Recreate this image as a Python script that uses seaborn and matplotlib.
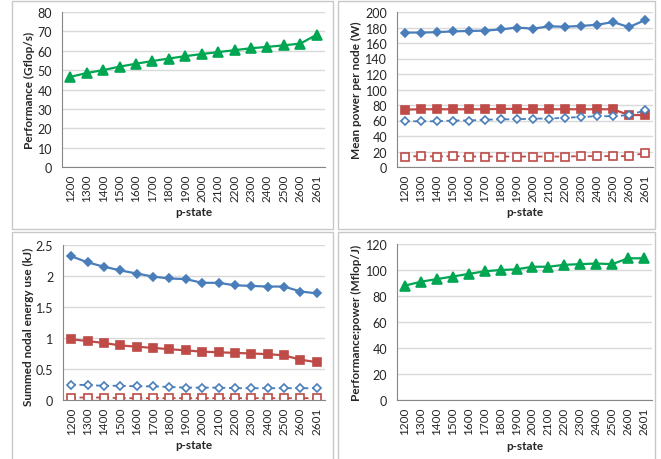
import numpy as np
import pandas as pd
import seaborn as sns
import matplotlib.pyplot as plt
from matplotlib.patches import Rectangle

# p-state categories
pstates = ['1200', '1300', '1400', '1500', '1600', '1700', '1800', '1900',
           '2000', '2100', '2200', '2300', '2400', '2500', '2600', '2601']

# Performance (Gflop/s)
performance = [46.5, 48.5, 50.0, 51.8, 53.3, 54.7, 56.0, 57.2,
               58.3, 59.3, 60.3, 61.3, 62.0, 62.8, 63.7, 68.3]

# Mean power per node (W)
power_a = [173.5, 173.5, 174, 175, 175.5, 176, 177.5, 180,
           178.5, 181.5, 181, 182, 183.5, 187, 180.5, 189.5]
power_b = [74, 74.5, 74.5, 74.5, 74.5, 74.5, 75, 75,
           74.5, 74.5, 74.5, 74.5, 74.5, 74.5, 67, 67]
power_c = [59, 59, 59, 60, 60, 61, 61.5, 61.5,
           62.5, 62.5, 63.5, 64.5, 65.5, 65.5, 67, 73]
power_d = [13.5, 14, 13.5, 14, 13.5, 13.5, 13.5, 13.5,
           13.5, 13.5, 13.5, 14, 14, 14, 14, 18]

# Summed nodal energy use (kJ)
energy_a = [2.32, 2.22, 2.15, 2.09, 2.04, 1.99, 1.96, 1.95,
            1.89, 1.89, 1.85, 1.84, 1.83, 1.83, 1.75, 1.72]
energy_b = [0.98, 0.95, 0.92, 0.88, 0.86, 0.84, 0.82, 0.80,
            0.78, 0.77, 0.76, 0.75, 0.74, 0.72, 0.65, 0.61]
energy_c = [0.25, 0.24, 0.23, 0.23, 0.22, 0.22, 0.21, 0.20,
            0.20, 0.20, 0.19, 0.19, 0.19, 0.19, 0.19, 0.19]
energy_d = [0.04, 0.04, 0.04, 0.03, 0.03, 0.03, 0.03, 0.03,
            0.03, 0.03, 0.03, 0.03, 0.03, 0.03, 0.03, 0.03]

# Performance:power (Mflop/J)
perf_power = [88, 91, 93, 95, 97, 99, 100, 100.5,
              102.5, 102.5, 104, 104.5, 105, 104.5, 109, 109]

GREEN = '#00A651'
BLUE = '#4A7EBB'
RED = '#BE4B48'
AXIS_GREY = '#868686'
GRID_GREY = '#D9D9D9'

sns.set_style('white')
plt.rcParams['font.family'] = ['Lato', 'DejaVu Sans']
plt.rcParams['font.size'] = 8

W, H = 661, 460
fig = plt.figure(figsize=(W / 100, H / 100), dpi=100)


def px_axes(left, right, top, bottom):
    return fig.add_axes([left / W, 1 - bottom / H, (right - left) / W, (bottom - top) / H])


def frame(x0, x1, y0, y1):
    fig.add_artist(Rectangle((x0 / W, 1 - y1 / H), (x1 - x0) / W, (y1 - y0) / H,
                             transform=fig.transFigure, fill=False,
                             edgecolor='#C8C8C8', lw=1.0))


frame(12, 333, 2, 230)
frame(338, 655, 2, 230)
frame(12, 333, 233, 470)
frame(338, 655, 233, 470)


def style_axes(ax, ymax, ystep, ylabel, label_x, label_y=0.5, yfmt=None):
    ax.set_xlim(-0.5, len(pstates) - 0.5)
    ax.set_ylim(0, ymax)
    yt = np.arange(0, ymax + ystep / 2, ystep)
    ax.set_yticks(yt)
    if yfmt is not None:
        ax.set_yticklabels([yfmt(v) for v in yt])
    ax.set_xticks(range(len(pstates)))
    ax.set_xticklabels(pstates, rotation=90)
    ax.set_xticks(np.arange(-0.5, len(pstates)), minor=True)
    ax.tick_params(axis='x', which='major', length=0, pad=5, labelsize=8.5)
    ax.tick_params(axis='x', which='minor', length=5, width=0.8, color=AXIS_GREY)
    ax.tick_params(axis='y', length=4, width=0.8, color=AXIS_GREY, pad=3, labelsize=9)
    ax.yaxis.grid(True, color=GRID_GREY, lw=1.0)
    ax.set_axisbelow(True)
    for s in ['top', 'right']:
        ax.spines[s].set_visible(False)
    for s in ['left', 'bottom']:
        ax.spines[s].set_color(AXIS_GREY)
        ax.spines[s].set_linewidth(0.8)
    ax.set_xlabel('p-state', fontweight='bold', fontsize=8.5)
    ax.set_ylabel(ylabel, fontweight='bold', fontsize=8.5)
    ax.xaxis.set_label_coords(0.5, -0.29)
    ax.yaxis.set_label_coords(label_x, label_y)
    ax.yaxis.label.set_va('center')
    ax.xaxis.label.set_va('center')


def series(ax, y, color, marker, ms, filled=True, dashed=False):
    df = pd.DataFrame({'p': pstates, 'v': y})
    sns.lineplot(data=df, x='p', y='v', ax=ax, color=color,
                 lw=1.3 if dashed else 1.6,
                 marker=marker, markersize=ms,
                 markerfacecolor=color if filled else 'white',
                 markeredgecolor=color, markeredgewidth=1.2, sort=False)
    if dashed:
        ax.lines[-1].set_linestyle((0, (2.6, 2.0)))


# Panel 1: performance
ax1 = px_axes(62, 325, 13, 168)
series(ax1, performance, GREEN, '^', 7.0)
style_axes(ax1, 80, 10, 'Performance (Gflop/s)', -0.122)

# Panel 2: mean power
ax2 = px_axes(397, 653, 13, 168)
series(ax2, power_a, BLUE, 'D', 4.3)
series(ax2, power_b, RED, 's', 5.8)
series(ax2, power_c, BLUE, 'D', 4.2, filled=False, dashed=True)
series(ax2, power_d, RED, 's', 5.3, filled=False, dashed=True)
style_axes(ax2, 200, 20, 'Mean power per node (W)', -0.16)

# Panel 3: energy
ax3 = px_axes(63, 325, 246, 401)
series(ax3, energy_a, BLUE, 'D', 4.3)
series(ax3, energy_b, RED, 's', 5.8)
series(ax3, energy_c, BLUE, 'D', 4.2, filled=False, dashed=True)
series(ax3, energy_d, RED, 's', 5.3, filled=False, dashed=True)
style_axes(ax3, 2.5, 0.5, 'Summed nodal energy use (kJ)', -0.13, label_y=0.48,
           yfmt=lambda v: f'{v:g}')

# Panel 4: performance:power
ax4 = px_axes(397, 652, 245, 401)
series(ax4, perf_power, GREEN, '^', 7.0)
style_axes(ax4, 120, 20, 'Performance:power (Mflop/J)', -0.16)

fig.savefig('out.png', dpi=100)
